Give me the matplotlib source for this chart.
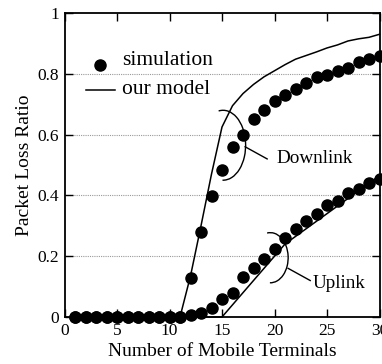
import matplotlib
matplotlib.use("Agg")
import matplotlib.pyplot as plt
from matplotlib.patches import Arc
import numpy as np

plt.rcParams['font.family'] = ['Liberation Serif', 'DejaVu Serif']

terminals = list(range(1, 31))
down_sim = [0]*11 + [0.128, 0.28, 0.397, 0.485, 0.56, 0.60, 0.65, 0.68, 0.71,
                     0.73, 0.75, 0.77, 0.79, 0.795, 0.81, 0.82, 0.84, 0.85, 0.86]
up_sim = [0]*11 + [0.005, 0.013, 0.03, 0.06, 0.08, 0.13, 0.16, 0.19, 0.225,
                   0.26, 0.29, 0.315, 0.34, 0.367, 0.383, 0.407, 0.42, 0.44, 0.455]

model_x = list(range(1, 31))
down_model = [0]*11 + [0.135, 0.30, 0.47, 0.625, 0.695, 0.735, 0.765, 0.79, 0.81,
                       0.83, 0.848, 0.86, 0.872, 0.885, 0.895, 0.908, 0.915, 0.92, 0.93]
up_model = [0]*15 + [0.04, 0.08, 0.12, 0.16, 0.2, 0.24, 0.265, 0.29, 0.315,
                     0.34, 0.365, 0.39, 0.415, 0.44, 0.465]

xticks = [0, 5, 10, 15, 20, 25, 30]
yticks = [0, 0.2, 0.4, 0.6, 0.8, 1]
ytick_labels = ['0', '0.2', '0.4', '0.6', '0.8', '1']

fig = plt.figure(figsize=(3.82, 3.64), dpi=100)
ax = fig.add_axes([64.5/382, 1-317/364, (379.5-64.5)/382, (317-13)/364])

for y in yticks[1:-1]:
    ax.axhline(y, color='#999999', lw=0.8, ls=(0, (1, 1)), zorder=0)

ax.plot(model_x, down_model, color='black', lw=1.1, clip_on=False)
ax.plot(model_x, up_model, color='black', lw=1.1, clip_on=False)
ax.plot(terminals, down_sim, 'o', color='black', ms=8, clip_on=False, zorder=3)
ax.plot(terminals, up_sim, 'o', color='black', ms=8, clip_on=False, zorder=3)

ax.set_xlim(0, 30)
ax.set_ylim(0, 1)
ax.set_xticks(xticks)
ax.set_yticks(yticks)
ax.set_yticklabels(ytick_labels)
ax.tick_params(direction='in', length=6, width=1, top=True, right=True,
               labelsize=12.5, pad=4)
for s in ax.spines.values():
    s.set_linewidth(1.3)

ax.set_xlabel('Number of Mobile Terminals', fontsize=14, labelpad=3.5)
ax.set_ylabel('Packet Loss Ratio', fontsize=14, labelpad=3)

# legend (manual)
ax.plot([3.4], [0.83], 'o', color='black', ms=8)
ax.text(5.5, 0.845, 'simulation', fontsize=15.5, va='center', ha='left')
ax.plot([2.0, 4.8], [0.746, 0.746], color='black', lw=1.1)
ax.text(5.5, 0.75, 'our model', fontsize=15.5, va='center', ha='left')

# annotations
ax.add_patch(Arc((15.1, 0.565), 4.3, 0.23, theta1=-115, theta2=165, color='black', lw=1.0))
ax.plot([17.2, 19.3], [0.56, 0.52], color='black', lw=1.0)
ax.text(20.2, 0.52, 'Downlink', fontsize=13.8, va='center', ha='left')

ax.add_patch(Arc((19.6, 0.195), 3.4, 0.165, theta1=-115, theta2=165, color='black', lw=1.0))
ax.plot([21.3, 23.4], [0.16, 0.12], color='black', lw=1.0)
ax.text(23.6, 0.11, 'Uplink', fontsize=13.8, va='center', ha='left')

fig.savefig('out.png', dpi=100)
